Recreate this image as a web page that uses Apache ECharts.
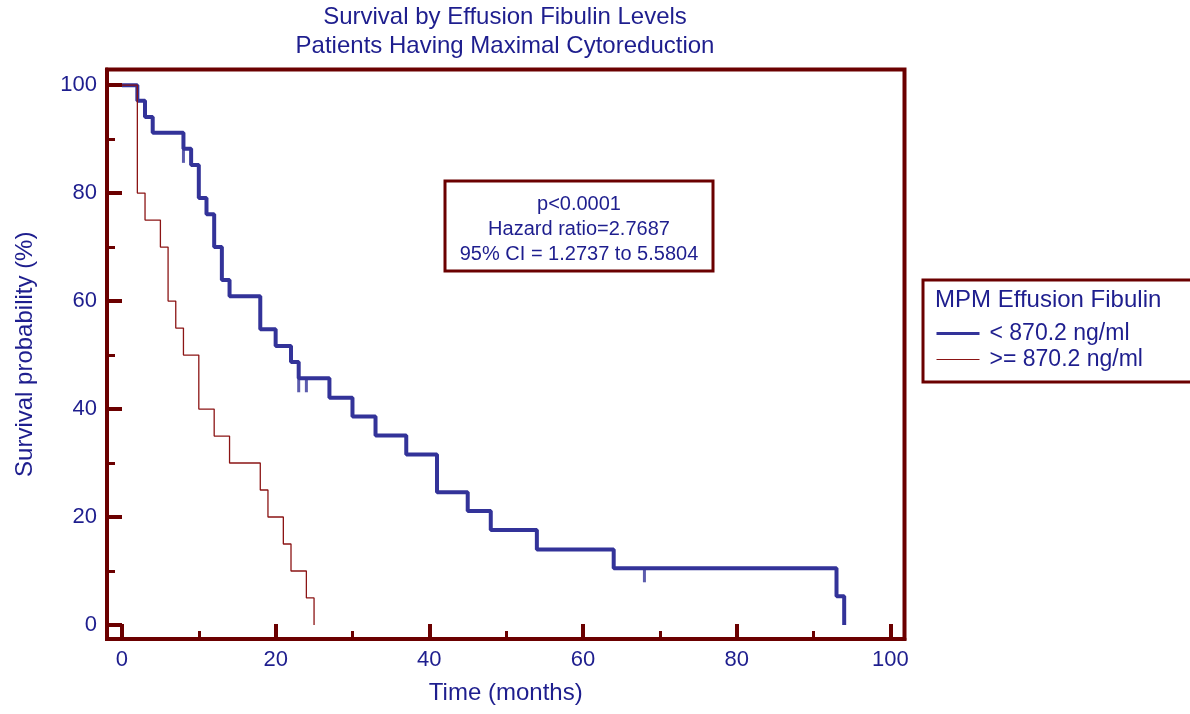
<!DOCTYPE html>
<html>
<head>
<meta charset="utf-8">
<script src="https://cdn.jsdelivr.net/npm/echarts@6/dist/echarts.min.js"></script>
<style>
html,body{margin:0;padding:0;background:#fff;}
#chart{width:1190px;height:714px;}
</style>
</head>
<body>
<div id="chart"></div>
<script>
// Data
var lowTimes   = [0, 2, 3, 4, 8, 9, 10, 11, 12, 13, 14, 18, 20, 22, 23, 27, 30, 33, 37, 41, 45, 48, 54, 64, 93, 94];
var lowSurv    = [100, 97.1, 94.1, 91.2, 88.2, 85.2, 79.1, 76.1, 70.0, 63.9, 60.9, 54.8, 51.7, 48.7, 45.7, 42.1, 38.6, 35.1, 31.6, 24.6, 21.1, 17.6, 14.0, 10.5, 5.3, 0];
var lowCensorT = [8, 23, 24, 68];
var lowCensorS = [88.2, 45.7, 45.7, 10.5];
var highTimes  = [0, 2, 3, 5, 6, 7, 8, 10, 12, 14, 18, 19, 21, 22, 24, 25];
var highSurv   = [100, 80, 75, 70, 60, 55, 50, 40, 35, 30, 25, 20, 15, 10, 5, 0];
var xMajor = [0, 20, 40, 60, 80, 100];
var xMinor = [10, 30, 50, 70, 90];
var yMajor = [0, 20, 40, 60, 80, 100];
var yMinor = [10, 30, 50, 70, 90];
var seriesNames = ['< 870.2 ng/ml', '>= 870.2 ng/ml'];
var titleLines = ['Survival by Effusion Fibulin Levels', 'Patients Having Maximal Cytoreduction'];
var statLines = ['p<0.0001', 'Hazard ratio=2.7687', '95% CI = 1.2737 to 5.5804'];
var legendTitle = 'MPM Effusion Fibulin';

var NAVY = '#1e1e8e';
var FRAME = '#6b0000';
var BLUE = '#333399';
var RED = '#8b1414';
var FONT = '"Liberation Sans", Arial, sans-serif';

function zip(a, b) { return a.map(function (v, i) { return [v, b[i]]; }); }

var chart = echarts.init(document.getElementById('chart'), null, {renderer: 'canvas'});

var xBase = {type: 'value', min: -1.95, max: 101.85, gridIndex: 0, position: 'bottom', splitLine: {show: false}};
var yBase = {type: 'value', min: -2.6, max: 102.9, gridIndex: 0, position: 'left', splitLine: {show: false}};

var option = {
  animation: false,
  backgroundColor: '#fff',
  textStyle: {fontFamily: FONT},
  grid: {left: 107, right: 285.5, top: 69.5, bottom: 75, show: true, borderColor: FRAME, borderWidth: 4, backgroundColor: 'transparent'},
  xAxis: [
    Object.assign({}, xBase, {
      axisLine: {show: true, onZero: false, lineStyle: {color: FRAME, width: 4}},
      axisTick: {show: true, inside: true, length: 15, customValues: xMajor, lineStyle: {color: FRAME, width: 4}},
      axisLabel: {show: true, customValues: xMajor, color: NAVY, fontSize: 22, fontFamily: FONT, margin: 10},
      name: 'Time (months)', nameLocation: 'middle', nameGap: 42,
      nameTextStyle: {color: NAVY, fontSize: 24, fontFamily: FONT}
    }),
    Object.assign({}, xBase, {
      axisLine: {show: false, onZero: false},
      axisTick: {show: true, inside: true, length: 8, customValues: xMinor, lineStyle: {color: FRAME, width: 3}},
      axisLabel: {show: false}
    })
  ],
  yAxis: [
    Object.assign({}, yBase, {
      axisLine: {show: true, onZero: false, lineStyle: {color: FRAME, width: 4}},
      axisTick: {show: true, inside: true, length: 15, customValues: yMajor, lineStyle: {color: FRAME, width: 4}},
      axisLabel: {show: true, customValues: yMajor, color: NAVY, fontSize: 22, fontFamily: FONT, margin: 10},
      name: 'Survival probability (%)', nameLocation: 'middle', nameGap: 70,
      nameTextStyle: {color: NAVY, fontSize: 24, fontFamily: FONT}
    }),
    Object.assign({}, yBase, {
      axisLine: {show: false, onZero: false},
      axisTick: {show: true, inside: true, length: 8, customValues: yMinor, lineStyle: {color: FRAME, width: 3}},
      axisLabel: {show: false}
    })
  ],
  legend: {
    data: [
      {name: seriesNames[0], itemStyle: {opacity: 0}, lineStyle: {color: BLUE, width: 3}},
      {name: seriesNames[1], itemStyle: {opacity: 0}, lineStyle: {color: RED, width: 1}}
    ],
    orient: 'vertical',
    left: 935, top: 322, padding: 0,
    itemWidth: 43, itemHeight: 14, itemGap: 3,
    textStyle: {color: NAVY, fontSize: 23, fontFamily: FONT, padding: [0, 0, 0, 5]}
  },
  series: [
    {
      name: seriesNames[0], type: 'line', step: 'end', xAxisIndex: 0, yAxisIndex: 0,
      data: zip(lowTimes, lowSurv), symbol: 'none',
      lineStyle: {color: BLUE, width: 4}, itemStyle: {color: BLUE}, z: 3
    },
    {
      name: seriesNames[1], type: 'line', step: 'end', xAxisIndex: 0, yAxisIndex: 0,
      data: zip(highTimes, highSurv), symbol: 'none',
      lineStyle: {color: RED, width: 1.3}, itemStyle: {color: RED}, z: 4
    },
    {
      name: 'censored', type: 'scatter', xAxisIndex: 0, yAxisIndex: 0,
      data: zip(lowCensorT, lowCensorS),
      symbol: 'rect', symbolSize: [3, 14], symbolOffset: [0, 7],
      itemStyle: {color: BLUE}, z: 3, silent: true
    }
  ],
  graphic: [
    {type: 'text', x: 505, y: 17, style: {text: titleLines[0], fill: NAVY, font: '24px ' + FONT, textAlign: 'center', textVerticalAlign: 'middle'}},
    {type: 'text', x: 505, y: 46, style: {text: titleLines[1], fill: NAVY, font: '24px ' + FONT, textAlign: 'center', textVerticalAlign: 'middle'}},
    {type: 'rect', shape: {x: 445, y: 181, width: 268, height: 90}, style: {fill: '#fff', stroke: FRAME, lineWidth: 3}, z: 10},
    {type: 'text', x: 579, y: 204, z: 11, style: {text: statLines[0], fill: NAVY, font: '20px ' + FONT, textAlign: 'center', textVerticalAlign: 'middle'}},
    {type: 'text', x: 579, y: 229, z: 11, style: {text: statLines[1], fill: NAVY, font: '20px ' + FONT, textAlign: 'center', textVerticalAlign: 'middle'}},
    {type: 'text', x: 579, y: 254, z: 11, style: {text: statLines[2], fill: NAVY, font: '20px ' + FONT, textAlign: 'center', textVerticalAlign: 'middle'}},
    {type: 'rect', shape: {x: 923, y: 280, width: 280, height: 102}, style: {fill: 'transparent', stroke: FRAME, lineWidth: 3}, z: 10},
    {type: 'text', x: 935, y: 300, z: 11, style: {text: legendTitle, fill: NAVY, font: '24px ' + FONT, textAlign: 'left', textVerticalAlign: 'middle'}}
  ]
};
chart.setOption(option);
</script>
</body>
</html>
